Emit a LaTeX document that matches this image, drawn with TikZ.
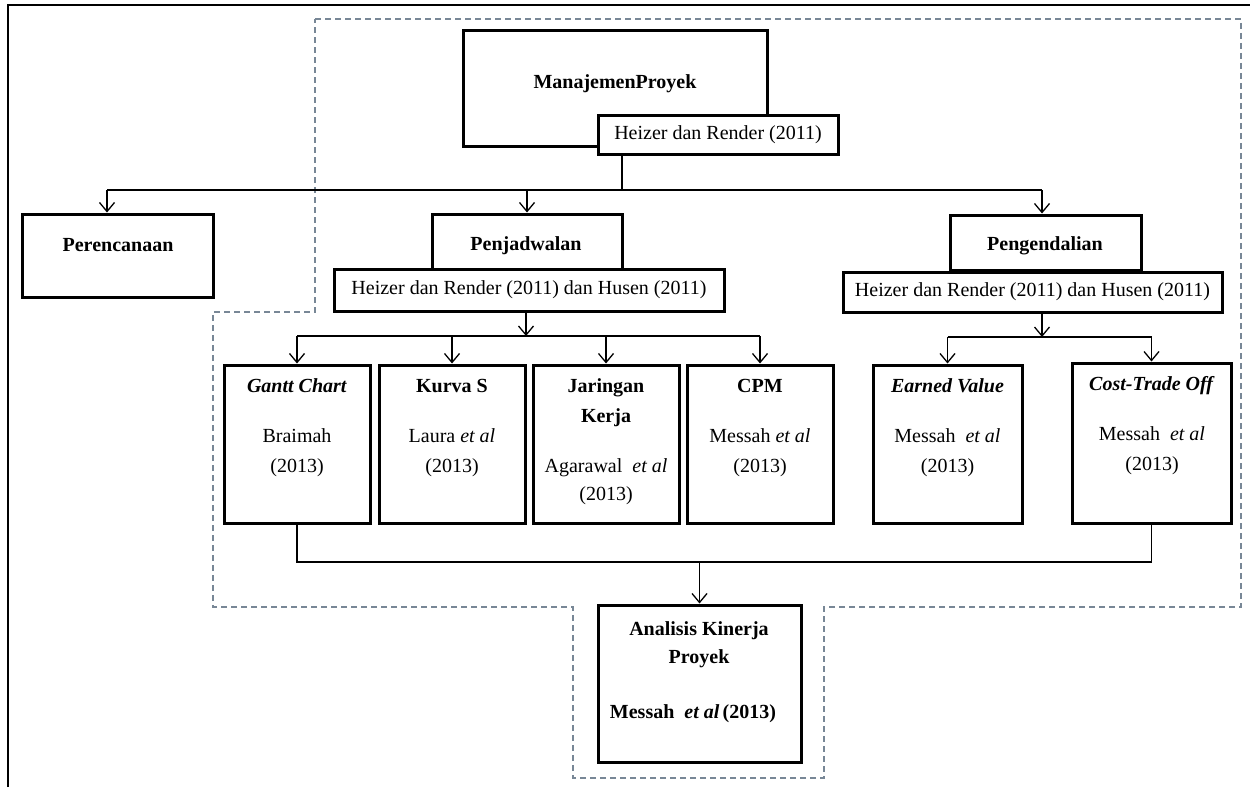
\documentclass[tikz,border=0pt]{standalone}
\usepackage{fontspec}
\setmainfont{Liberation Serif}
\usetikzlibrary{arrows.meta}
\definecolor{zonecol}{RGB}{120,135,150}
\begin{document}
\begin{tikzpicture}[x=1pt,y=-1pt,
  box/.style={draw, line width=3pt, fill=white, inner sep=0pt, font=\fontsize{20}{24}\selectfont},
  txt/.style={inner sep=0pt, text height=14pt, text depth=4pt, font=\fontsize{20}{24}\selectfont},
  conn/.style={line width=1.3pt},
  arr/.style={line width=1.3pt, -{Straight Barb[length=9pt,width=15pt]}},
  zone/.style={draw=zonecol, line width=1.2pt, dash pattern=on 6pt off 4pt},
  frame/.style={line width=1.8pt}]
\useasboundingbox (0,0) rectangle (1250,787);
% outer frame
\draw[frame] (8,787) -- (8,5) -- (1250,5);
% dashed zone
\draw[zone] (315,19) -- (1241,19) -- (1241,607) -- (824,607) -- (824,778) -- (573,778)
  -- (573,607) -- (213,607) -- (213,312) -- (315,312) -- cycle;
% boxes
\node[box, minimum width=304pt, minimum height=116pt] (mp) at (615,88) {};
\node[txt] (tmp) at (615,83) {\textbf{ManajemenProyek}};
\node[box, minimum width=240pt, minimum height=39pt] (mpref) at (718,134.5) {Heizer dan Render (2011)};

\node[box, minimum width=191pt, minimum height=83pt] (per) at (117.5,255.5) {};
\node[txt] (tper) at (118,246) {\textbf{Perencanaan}};

\node[box, minimum width=190pt, minimum height=55pt] (pj) at (527,241.5) {};
\node[txt] (tpj) at (526,245) {\textbf{Penjadwalan}};
\node[box, minimum width=390pt, minimum height=42pt] (pjref) at (529,290) {Heizer dan Render (2011) dan Husen (2011)};

\node[box, minimum width=191pt, minimum height=55pt] (pg) at (1045.5,242.5) {};
\node[txt] (tpg) at (1045,245) {\textbf{Pengendalian}};
\node[box, minimum width=379pt, minimum height=40pt] (pgref) at (1032.5,292) {Heizer dan Render (2011) dan Husen (2011)};

\node[box, minimum width=146pt, minimum height=158pt] (gantt) at (297,444) {};
\node[txt] (tg1) at (297,387) {\textbf{\textit{Gantt Chart}}};
\node[txt] (tg2) at (297,437) {Braimah};
\node[txt] (tg3) at (297,467) {(2013)};

\node[box, minimum width=146pt, minimum height=158pt] (kurva) at (452,444) {};
\node[txt] (tk1) at (452,387) {\textbf{Kurva S}};
\node[txt] (tk2) at (452,437) {Laura \textit{et al}};
\node[txt] (tk3) at (452,467) {(2013)};

\node[box, minimum width=146pt, minimum height=158pt] (jar) at (606,444) {};
\node[txt] (tj1) at (606,387) {\textbf{Jaringan}};
\node[txt] (tj2) at (606,417) {\textbf{Kerja}};
\node[txt] (tj3) at (606,467) {Agarawal \ \textit{et al}};
\node[txt] (tj4) at (606,495) {(2013)};

\node[box, minimum width=146pt, minimum height=158pt] (cpm) at (760,444) {};
\node[txt] (tc1) at (760,387) {\textbf{CPM}};
\node[txt] (tc2) at (760,437) {Messah \textit{et al}};
\node[txt] (tc3) at (760,467) {(2013)};

\node[box, minimum width=149pt, minimum height=158pt] (ev) at (947.5,444) {};
\node[txt] (te1) at (947.5,387) {\textbf{\textit{Earned Value}}};
\node[txt] (te2) at (947.5,437) {Messah \ \textit{et al}};
\node[txt] (te3) at (947.5,467) {(2013)};

\node[box, minimum width=159pt, minimum height=160pt] (cto) at (1151.5,443) {};
\node[txt] (to1) at (1152,385) {\textbf{\textit{Cost-Trade Off}}};
\node[txt] (to2) at (1152,435) {Messah \ \textit{et al}};
\node[txt] (to3) at (1152,465) {(2013)};

\node[box, minimum width=203pt, minimum height=157pt] (ak) at (699.5,683.5) {};
\node[txt] (ta1) at (699,630) {\textbf{Analisis Kinerja}};
\node[txt] (ta2) at (699,658) {\textbf{Proyek}};
\node[txt] (ta3) at (693,713) {\textbf{Messah \ \textit{et al}\,(2013)}};

% connectors level 1
\coordinate (h1L) at (107,190);
\coordinate (h1m) at (622,190);
\coordinate (h1R) at (1042,190);
\draw[conn] (mpref.south -| h1m) -- (h1m);
\draw[conn] (h1L) -- (h1R);
\draw[arr] (h1L) -- (h1L |- per.north);
\draw[arr] (pj.north |- h1L) -- (pj.north);
\draw[arr] (h1R) -- (h1R |- pg.north);

% penjadwalan children
\coordinate (h2m) at (526,336);
\draw[arr] (pjref.south -| h2m) -- (h2m);
\draw[conn] (gantt.north |- h2m) -- (cpm.north |- h2m);
\draw[arr] (gantt.north |- h2m) -- (gantt.north);
\draw[arr] (kurva.north |- h2m) -- (kurva.north);
\draw[arr] (jar.north |- h2m) -- (jar.north);
\draw[arr] (cpm.north |- h2m) -- (cpm.north);

% pengendalian children
\coordinate (h3m) at (1042,337);
\draw[arr] (pgref.south -| h3m) -- (h3m);
\draw[conn] (ev.north |- h3m) -- (cto.north |- h3m);
\draw[arr] (ev.north |- h3m) -- (ev.north);
\draw[arr] (cto.north |- h3m) -- (cto.north);

% bottom
\coordinate (h4) at (697,562);
\draw[conn] (gantt.south) -- (gantt.south |- h4) -- (cto.south |- h4) -- (cto.south);
\draw[arr] (ak.north |- h4) -- (ak.north);
\end{tikzpicture}
\end{document}
